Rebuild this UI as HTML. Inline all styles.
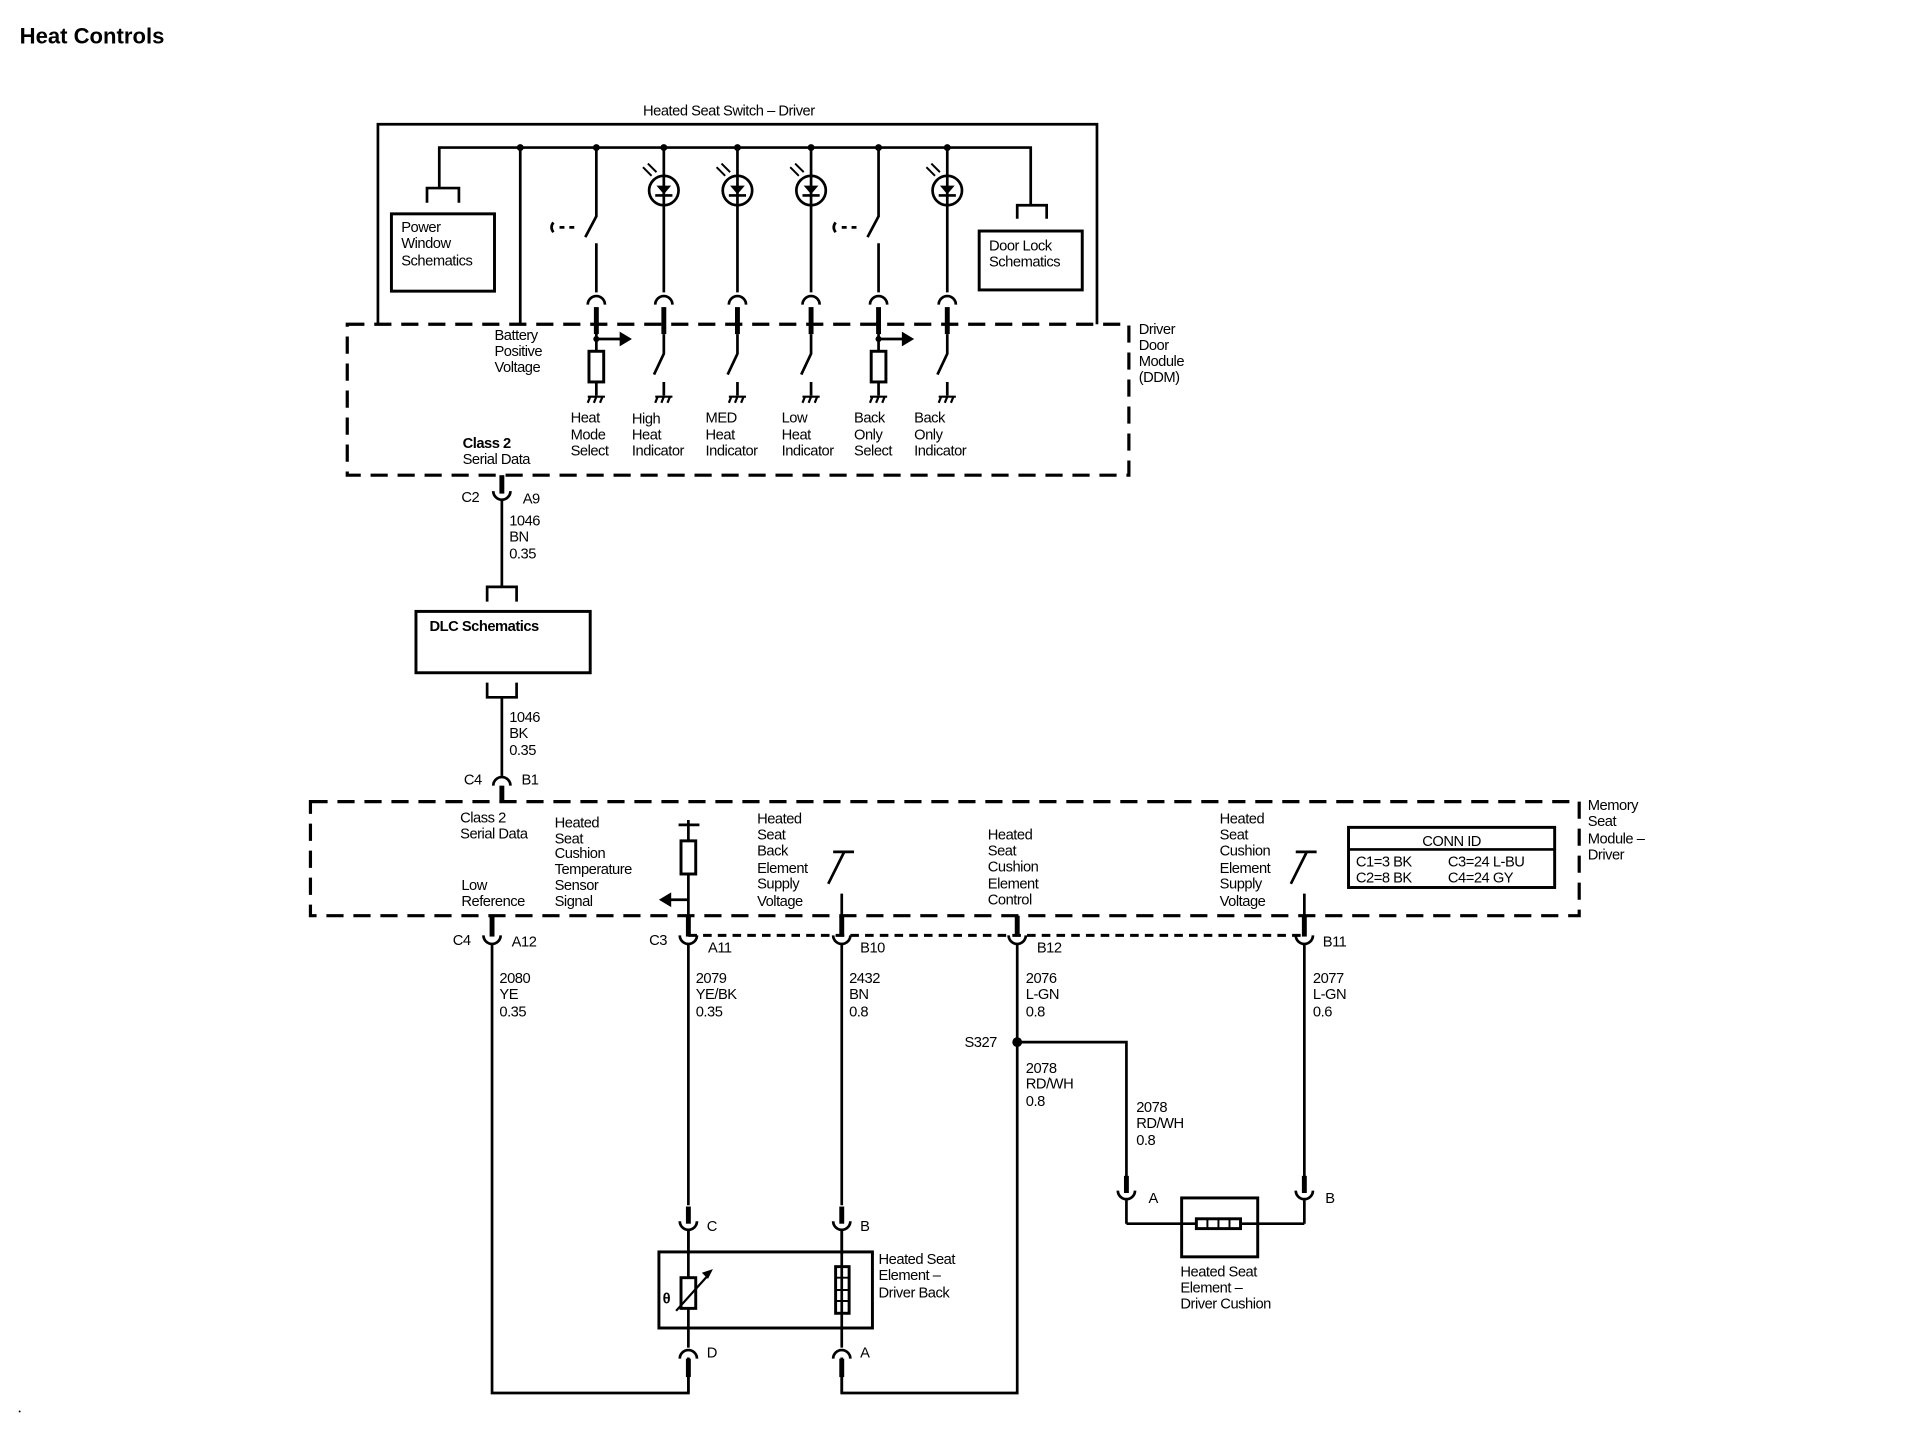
<!DOCTYPE html>
<html><head><meta charset="utf-8"><style>
html,body{margin:0;padding:0;background:#fff;}
svg{display:block;}
text{font-family:"Liberation Sans",sans-serif;font-size:12px;fill:#000;letter-spacing:-0.4px;}
.w{stroke:#000;stroke-width:2.2;fill:none;}
.d{stroke:#000;stroke-width:2.6;fill:none;stroke-dasharray:14 8;}
.p{stroke:#000;stroke-width:4;fill:none;}
.b{stroke:#000;stroke-width:2.4;fill:none;}
</style></head><body>
<svg width="1924" height="1440" viewBox="0 0 1568 1173" xmlns="http://www.w3.org/2000/svg">
<rect width="1568" height="1173" fill="#fff"/>
<text x="16" y="35" style="font-size:18px;font-weight:bold;letter-spacing:0">Heat Controls</text>

<text x="594" y="94" text-anchor="middle">Heated Seat Switch – Driver</text>
<path class="w" d="M308 264 V101 H894 V264"/>
<path class="w" d="M358 153 V120 H840 V167"/>
<path class="w" d="M348 165 V153 H374 V165"/>
<rect class="b" x="319" y="174" width="84" height="63"/>
<text x="327" y="189">Power</text><text x="327" y="202">Window</text><text x="327" y="216">Schematics</text>
<path class="w" d="M829 178 V167 H853 V178"/>
<rect class="b" x="798" y="188" width="84" height="48"/>
<text x="806" y="204">Door Lock</text><text x="806" y="217">Schematics</text>
<g fill="#000">
<circle cx="424" cy="120" r="2.8"/><circle cx="486" cy="120" r="2.8"/><circle cx="541" cy="120" r="2.8"/><circle cx="601" cy="120" r="2.8"/><circle cx="661" cy="120" r="2.8"/><circle cx="716" cy="120" r="2.8"/><circle cx="772" cy="120" r="2.8"/>
</g>
<path class="w" d="M424 120 V264"/>
<path class="w" d="M486 120 V176 L477 193 M486 198 V238"/>
<path class="w" d="M451 181 q-3 4 0 8 M456 185 h4 M464 185 h4"/>
<path class="w" d="M716 120 V176 L707 193 M716 198 V238"/>
<path class="w" d="M681 181 q-3 4 0 8 M686 185 h4 M694 185 h4"/>
<g id="led">
<path class="w" d="M541 120 V238"/>
<circle class="w" cx="541" cy="155" r="12"/>
<path d="M535 151 h12 l-6 7 z" fill="#000"/>
<path class="w" d="M534 159 h14"/>
<path class="w" d="M524 136 l7 7 M528 133 l7 7" style="stroke-width:1.6"/>
</g>
<use href="#led" x="60"/><use href="#led" x="120"/><use href="#led" x="231"/>
<g id="capt">
<path class="w" d="M479 248 a7 7 0 0 1 14 0"/>
<path class="p" d="M486 250 V272"/>
</g>
<use href="#capt" x="55"/><use href="#capt" x="115"/><use href="#capt" x="175"/><use href="#capt" x="230"/><use href="#capt" x="286"/>
<rect class="d" x="283" y="264" width="637" height="123"/>
<text x="928" y="272">Driver</text><text x="928" y="285">Door</text><text x="928" y="298">Module</text><text x="928" y="311">(DDM)</text>
<text x="403" y="277">Battery</text><text x="403" y="290">Positive</text><text x="403" y="303">Voltage</text>
<text x="377" y="365" style="font-weight:bold">Class 2</text><text x="377" y="378">Serial Data</text>
<path class="w" d="M486 270 V286 M486 311 V322 M486 276 H506"/>
<path d="M505 270 l10 6 l-10 6 z" fill="#000"/><circle cx="486" cy="276" r="2.5"/>
<rect class="b" x="480" y="286" width="12" height="25"/>
<path class="w" d="M716 270 V286 M716 311 V322 M716 276 H736"/>
<path d="M735 270 l10 6 l-10 6 z" fill="#000"/><circle cx="716" cy="276" r="2.5"/>
<rect class="b" x="710" y="286" width="12" height="25"/>
<g id="isw"><path class="w" d="M541 272 V288 L533 305 M541 311 V322"/></g>
<use href="#isw" x="60"/><use href="#isw" x="120"/><use href="#isw" x="231"/>
<g id="gnd"><path class="w" d="M479 323 H493 M481 323 l-2 5 M486 323 l-2 5 M491 323 l-2 5" style="stroke-width:1.8"/></g>
<use href="#gnd" x="55"/><use href="#gnd" x="115"/><use href="#gnd" x="175"/><use href="#gnd" x="230"/><use href="#gnd" x="286"/>
<text x="465" y="344">Heat</text><text x="465" y="358">Mode</text><text x="465" y="371">Select</text>
<text x="515" y="345">High</text><text x="515" y="358">Heat</text><text x="515" y="371">Indicator</text>
<text x="575" y="344">MED</text><text x="575" y="358">Heat</text><text x="575" y="371">Indicator</text>
<text x="637" y="344">Low</text><text x="637" y="358">Heat</text><text x="637" y="371">Indicator</text>
<text x="696" y="344">Back</text><text x="696" y="358">Only</text><text x="696" y="371">Select</text>
<text x="745" y="344">Back</text><text x="745" y="358">Only</text><text x="745" y="371">Indicator</text>

<path class="p" d="M409 387 V402"/>
<path class="w" d="M402 400 a7 7 0 0 0 14 0"/>
<path class="w" d="M409 407 V478"/>
<text x="376" y="409">C2</text><text x="426" y="410">A9</text>
<text x="415" y="428">1046</text><text x="415" y="441">BN</text><text x="415" y="455">0.35</text>
<path class="w" d="M397 490 V478 H421 V490"/>
<rect class="b" x="339" y="498" width="142" height="50"/>
<text x="350" y="514" style="font-weight:bold">DLC Schematics</text>
<path class="w" d="M397 556 V568 H421 V556 M409 568 V632"/>
<text x="415" y="588">1046</text><text x="415" y="601">BK</text><text x="415" y="615">0.35</text>
<path class="w" d="M402 640 a7 7 0 0 1 14 0"/>
<path class="p" d="M409 640 V654"/>
<text x="378" y="639">C4</text><text x="425" y="639">B1</text>

<rect class="d" x="253" y="653" width="1034" height="93"/>
<text x="1294" y="660">Memory</text><text x="1294" y="673">Seat</text><text x="1294" y="687">Module –</text><text x="1294" y="700">Driver</text>
<text x="375" y="670">Class 2</text><text x="375" y="683">Serial Data</text>
<text x="376" y="725">Low</text><text x="376" y="738">Reference</text>
<text x="452" y="674">Heated</text><text x="452" y="687">Seat</text><text x="452" y="699">Cushion</text><text x="452" y="712">Temperature</text><text x="452" y="725">Sensor</text><text x="452" y="738">Signal</text>
<path class="w" d="M553 672 H570 M561 668 V685 M561 712 V760 M561 733 H546"/>
<path d="M547 727 l-10 6 l10 6 z" fill="#000"/>
<rect class="b" x="555" y="685" width="12" height="27"/>
<text x="617" y="671">Heated</text><text x="617" y="684">Seat</text><text x="617" y="697">Back</text><text x="617" y="711">Element</text><text x="617" y="724">Supply</text><text x="617" y="738">Voltage</text>
<path class="w" d="M679 694 H696 M688 694 L675 720 M686 728 V760"/>
<text x="805" y="684">Heated</text><text x="805" y="697">Seat</text><text x="805" y="710">Cushion</text><text x="805" y="724">Element</text><text x="805" y="737">Control</text>
<text x="994" y="671">Heated</text><text x="994" y="684">Seat</text><text x="994" y="697">Cushion</text><text x="994" y="711">Element</text><text x="994" y="724">Supply</text><text x="994" y="738">Voltage</text>
<path class="w" d="M1056 694 H1073 M1065 694 L1052 720 M1063 728 V760"/>
<rect class="b" x="1099" y="674" width="168" height="49"/>
<path class="w" d="M1099 692 H1267"/>
<text x="1183" y="689" text-anchor="middle">CONN ID</text>
<text x="1105" y="706">C1=3 BK</text><text x="1180" y="706">C3=24 L-BU</text>
<text x="1105" y="719">C2=8 BK</text><text x="1180" y="719">C4=24 GY</text>

<path d="M561 762 H1063" stroke="#000" stroke-width="2.4" stroke-dasharray="7 5"/>
<g id="cup">
<path class="p" d="M401 746 V763"/>
<path class="w" d="M394 762 a7 7 0 0 0 14 0"/>
</g>
<use href="#cup" x="160"/><use href="#cup" x="285"/><use href="#cup" x="428"/><use href="#cup" x="662"/>
<text x="369" y="770">C4</text><text x="417" y="771">A12</text>
<text x="529" y="770">C3</text><text x="577" y="776">A11</text>
<text x="701" y="776">B10</text><text x="845" y="776">B12</text><text x="1078" y="771">B11</text>

<path class="w" d="M401 769 V1135 H561 V1106"/>
<text x="407" y="801">2080</text><text x="407" y="814">YE</text><text x="407" y="828">0.35</text>
<path class="w" d="M561 769 V982"/>
<text x="567" y="801">2079</text><text x="567" y="814">YE/BK</text><text x="567" y="828">0.35</text>
<path class="w" d="M686 769 V982"/>
<text x="692" y="801">2432</text><text x="692" y="814">BN</text><text x="692" y="828">0.8</text>
<path class="w" d="M829 769 V1135 H686 V1106"/>
<text x="836" y="801">2076</text><text x="836" y="814">L-GN</text><text x="836" y="828">0.8</text>
<circle cx="829" cy="849" r="4" fill="#000"/>
<text x="786" y="853">S327</text>
<path class="w" d="M829 849 H918 V966"/>
<text x="836" y="874">2078</text><text x="836" y="887">RD/WH</text><text x="836" y="901">0.8</text>
<text x="926" y="906">2078</text><text x="926" y="919">RD/WH</text><text x="926" y="933">0.8</text>
<path class="w" d="M1063 769 V966"/>
<text x="1070" y="801">2077</text><text x="1070" y="814">L-GN</text><text x="1070" y="828">0.6</text>

<g id="cup2"><path class="p" d="M918 958 V972"/><path class="w" d="M911 970 a7 7 0 0 0 14 0 M918 977 V997"/></g>
<use href="#cup2" x="145"/>
<text x="936" y="980">A</text><text x="1080" y="980">B</text>
<path class="w" d="M918 997 H975 M1011 997 H1063"/>
<rect class="b" x="963" y="976" width="62" height="48"/>
<rect class="b" x="975" y="993" width="36" height="8"/>
<path class="w" d="M984 993 v8 M993 993 v8 M1002 993 v8" style="stroke-width:1.6"/>
<text x="962" y="1040">Heated Seat</text><text x="962" y="1053">Element –</text><text x="962" y="1066">Driver Cushion</text>

<use href="#cup2" x="-357" y="25"/><use href="#cup2" x="-232" y="25"/>
<text x="576" y="1003">C</text><text x="701" y="1003">B</text>
<path class="w" d="M561 1002 V1041 M561 1066 V1098 M686 1002 V1098"/>
<rect class="b" x="537" y="1020" width="174" height="62"/>
<rect class="b" x="555" y="1041" width="12" height="25"/>
<path class="w" d="M551 1068 L578 1038" style="stroke-width:1.8"/>
<path d="M581 1034 l-9 3 l5 5 z" fill="#000"/>
<text x="540" y="1062" style="font-weight:bold">θ</text>
<rect class="b" x="681" y="1032" width="11" height="38"/>
<path class="w" d="M681 1041 h11 M681 1051 h11 M681 1060 h11" style="stroke-width:1.6"/>
<text x="716" y="1030">Heated Seat</text><text x="716" y="1043">Element –</text><text x="716" y="1057">Driver Back</text>
<g id="capb"><path class="w" d="M554 1107 a7 7 0 0 1 14 0"/><path class="p" d="M561 1107 V1122"/></g>
<use href="#capb" x="125"/>
<text x="576" y="1106">D</text><text x="701" y="1106">A</text>
<path class="w" d="M561 1120 V1135 M686 1120 V1135"/>
<circle cx="16" cy="1150" r="0.8" fill="#000"/>
</svg>
</body></html>
